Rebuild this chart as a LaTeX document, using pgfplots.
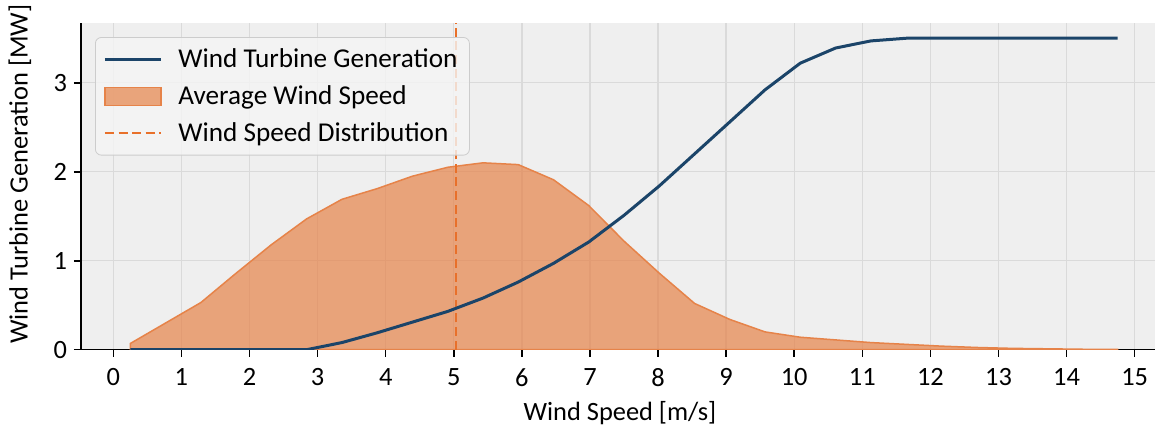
\documentclass[border=0pt]{standalone}
\usepackage{fontspec}
\setmainfont{Carlito}
\usepackage{pgfplots}
\pgfplotsset{compat=1.18}
\usepackage{pgfplotstable}

\definecolor{gen}{HTML}{1B4469}
\definecolor{dist}{HTML}{E68349}
\definecolor{vline}{HTML}{E8702A}
\definecolor{bg}{HTML}{EFEFEF}
\definecolor{gridc}{HTML}{DADADA}

\pgfplotsset{
  legend line/.style={legend image code/.code={\draw[sharp corners,##1] (0pt,0pt) -- (28pt,0pt);}},
  legend patch/.style={legend image code/.code={\path[sharp corners,##1] (0pt,-4.5pt) rectangle (28pt,4.5pt);}},
}

% wind speed [m/s], turbine output [MW], wind speed distribution
\pgfplotstableread{
ws     gen   dist
0.250  0.00  0.07
0.768  0.00  0.30
1.286  0.00  0.53
1.804  0.00  0.86
2.321  0.00  1.18
2.839  0.00  1.47
3.357  0.08  1.69
3.875  0.19  1.81
4.393  0.31  1.95
4.911  0.43  2.05
5.429  0.58  2.10
5.946  0.76  2.08
6.464  0.97  1.91
6.982  1.21  1.62
7.500  1.51  1.22
8.018  1.84  0.86
8.536  2.20  0.52
9.054  2.56  0.34
9.571  2.92  0.20
10.089 3.22  0.14
10.607 3.39  0.11
11.125 3.47  0.08
11.643 3.50  0.06
12.161 3.50  0.04
12.679 3.50  0.025
13.196 3.50  0.015
13.714 3.50  0.01
14.232 3.50  0.005
14.750 3.50  0.003
}\windtable

\newcommand{\chartfont}{\fontsize{13.2}{15.8}\selectfont}
\newcommand{\legendfont}{\fontsize{13.6}{16.3}\selectfont}

\begin{document}
\begin{tikzpicture}
\useasboundingbox (-40.5pt,-38.15pt) rectangle (537pt,174.85pt);
\begin{axis}[
  scale only axis,
  width=543pt, height=163.5pt,
  xmin=-0.475, xmax=15.475,
  ymin=0, ymax=3.675,
  axis lines*=left,
  axis line style={black, line width=0.8pt},
  axis background/.style={fill=bg},
  xtick={0,...,15},
  ytick={0,1,2,3},
  tick align=outside,
  major tick length=3.5pt,
  tick style={black, line width=0.8pt},
  grid=major,
  grid style={gridc, line width=0.7pt},
  /pgf/number format/assume math mode=true,
  ticklabel style={font=\chartfont},
  xticklabel style={yshift=-2.5pt},
  label style={font=\chartfont},
  xlabel={Wind Speed [m/s]},
  ylabel={Wind Turbine Generation [MW]},
  xlabel style={at={(axis description cs:0.4963,-0.195)}, anchor=center},
  ylabel style={at={(axis description cs:-0.0562,0.537)}, anchor=center},
  legend cell align=left,
  legend style={
    at={(axis description cs:0.0129,0.956)}, anchor=north west,
    font=\legendfont,
    draw=black!20, rounded corners=3pt,
    fill=white!96!black, fill opacity=0.8, text opacity=1,
    inner xsep=4pt, inner ysep=3.5pt,
    row sep=3.5pt,
    /tikz/every odd column/.append style={column sep=6pt},
  },
]
\addlegendimage{legend line, gen, line width=1.5pt}
\addlegendentry{Wind Turbine Generation}
\addlegendimage{legend patch, fill=dist, fill opacity=0.7, draw=dist, line width=0.75pt}
\addlegendentry{Average Wind Speed}
\addlegendimage{legend line, vline, line width=1pt, dash pattern=on 4.5pt off 2.3pt}
\addlegendentry{Wind Speed Distribution}

\addplot[draw=dist, line width=0.75pt, fill=dist, fill opacity=0.7, forget plot]
  table[x=ws, y=dist] {\windtable} \closedcycle;
\addplot[vline, line width=1pt, dash pattern=on 4.5pt off 2.3pt, forget plot]
  coordinates {(5.03,0) (5.03,3.675)};
\addplot[gen, line width=1.5pt, forget plot]
  table[x=ws, y=gen] {\windtable};
\end{axis}
\end{tikzpicture}
\end{document}
